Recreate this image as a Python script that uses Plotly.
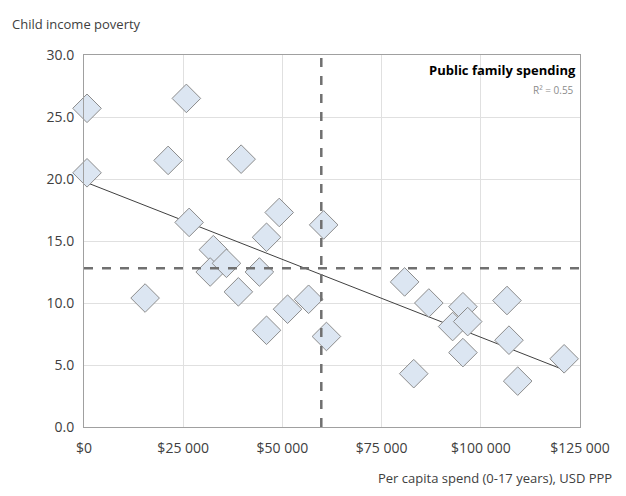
import plotly.graph_objects as go

# Per capita spend (USD PPP) and child income poverty (%)
spend = [760, 760, 15400, 21200, 25800, 26500, 32600, 31800, 35900, 38900,
         39600, 44200, 46000, 46000, 49200, 51300, 56600, 60400, 61100, 80800,
         83100, 86900, 92900, 95500, 95500, 96700, 106600, 107100, 109300, 121000]
poverty = [25.7, 20.5, 10.4, 21.5, 26.5, 16.5, 14.3, 12.5, 13.2, 10.9,
           21.6, 12.5, 15.3, 7.8, 17.3, 9.5, 10.3, 16.3, 7.3, 11.7,
           4.3, 10.0, 8.1, 9.7, 6.0, 8.5, 10.2, 7.0, 3.7, 5.5]

trend_x = [760, 121000]
trend_y = [19.7, 4.6]

mean_spend = 59800
mean_poverty = 12.8

x_ticks = [0, 25000, 50000, 75000, 100000, 125000]
x_labels = ["$0", "$25 000", "$50 000", "$75 000", "$100 000", "$125 000"]
y_ticks = [0, 5, 10, 15, 20, 25, 30]
y_labels = ["0.0", "5.0", "10.0", "15.0", "20.0", "25.0", "30.0"]

fig = go.Figure()

fig.add_trace(go.Scatter(
    x=trend_x, y=trend_y, mode="lines",
    line=dict(color="#404040", width=1), showlegend=False
))

fig.add_trace(go.Scatter(
    x=spend, y=poverty, mode="markers",
    marker=dict(symbol="diamond", size=22, color="#dce6f2",
                line=dict(color="#8c8c8c", width=1)),
    showlegend=False, cliponaxis=False
))

fig.add_vline(x=mean_spend, line=dict(color="#707070", width=2.5, dash="dash"))
fig.add_hline(y=mean_poverty, line=dict(color="#707070", width=2.5, dash="dash"))

fig.add_annotation(x=0, y=1, xref="paper", yref="paper", xanchor="left",
                   xshift=-74, yanchor="bottom", yshift=20, showarrow=False,
                   text="Child income poverty", font=dict(size=13, color="#404040"))
fig.add_annotation(x=1, y=1, xref="paper", yref="paper", xanchor="right",
                   yanchor="top", showarrow=False, xshift=-2, yshift=-4,
                   text="<b>Public family spending</b>", font=dict(size=13, color="#000000"))
fig.add_annotation(x=1, y=1, xref="paper", yref="paper", xanchor="right",
                   yanchor="top", showarrow=False, xshift=-4, yshift=-26,
                   text="R² = 0.55", font=dict(size=10, color="#8c8c8c"))
fig.add_annotation(x=1, y=0, xref="paper", yref="paper", xanchor="right",
                   yanchor="top", showarrow=False, xshift=34, yshift=-40,
                   text="Per capita spend (0-17 years), USD PPP",
                   font=dict(size=13, color="#404040"))

fig.update_layout(
    width=610, height=480,
    margin=dict(l=76, r=38, t=47, b=61, autoexpand=False),
    plot_bgcolor="white", paper_bgcolor="white",
    font=dict(family="Open Sans", size=14, color="#404040"),
    xaxis=dict(range=[0, 125000], tickvals=x_ticks, ticktext=x_labels,
               showgrid=True, gridcolor="#e0e0e0", zeroline=False, automargin=False,
               showline=True, linecolor="#a0a0a0", mirror=True,
               ticks="outside", ticklen=8, tickcolor="rgba(0,0,0,0)"),
    yaxis=dict(range=[0, 30], tickvals=y_ticks, ticktext=y_labels,
               showgrid=True, gridcolor="#e0e0e0", zeroline=False, automargin=False,
               showline=True, linecolor="#a0a0a0", mirror=True,
               ticks="outside", ticklen=6, tickcolor="rgba(0,0,0,0)"),
)

fig.write_html("out.html")
